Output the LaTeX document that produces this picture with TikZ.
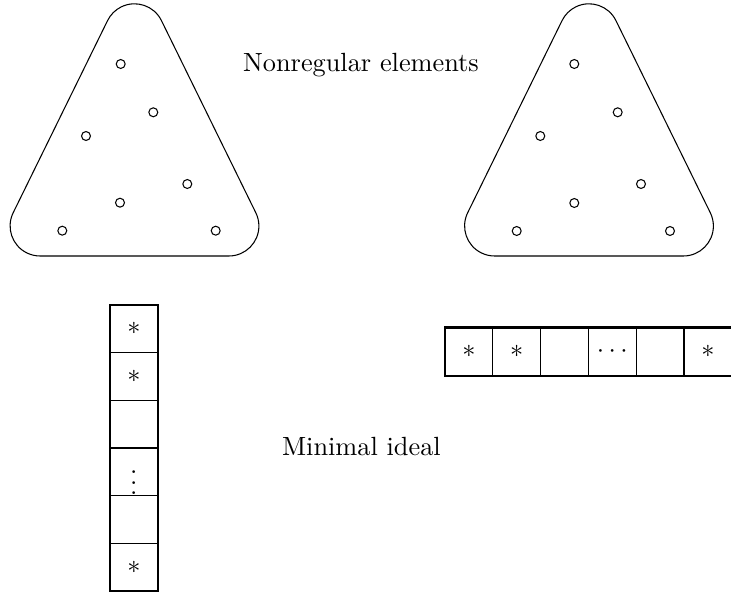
\documentclass[tikz,border=0pt]{standalone}
\begin{document}
\begin{tikzpicture}[x=0.38pt,y=0.38pt,
  blob/.style={line width=0.4pt},
  dot/.style={circle,draw,line width=0.4pt,minimum size=3.4pt,inner sep=0pt},
  outerline/.style={line width=0.9pt},
  innerline/.style={line width=0.4pt},
  lbl/.style={anchor=base,inner sep=0pt},
  entry/.style={inner sep=0pt}]
\useasboundingbox (0,0) rectangle (731,594);
\clip (0,0) rectangle (731,594);
% rounded triangles
\foreach \dx in {0,454.5}{
  \begin{scope}[shift={(\dx,0)}]
    \draw[blob] (40.1,338) -- (228.9,338)
      arc[start angle=-90,end angle=26.15,radius=11.4pt]
      -- (161.43,573.42)
      arc[start angle=26.15,end angle=153.85,radius=11.4pt]
      -- (13.17,381.22)
      arc[start angle=153.85,end angle=270,radius=11.4pt] -- cycle;
  \end{scope}}
% elements (left)
\foreach \n/\p in {1/{(120.7,530)},2/{(153.3,481.7)},3/{(86,458)},4/{(187.3,410)},5/{(120,391.3)},6/{(62.3,363.3)},7/{(215.7,363.3)}}
  \node[dot] (L\n) at \p {};
% elements (right)
\foreach \n/\p in {1/{(574.3,530)},2/{(617.7,481.7)},3/{(540.3,458)},4/{(641,410)},5/{(574.3,391)},6/{(516.7,363)},7/{(670,363)}}
  \node[dot] (R\n) at \p {};
% labels
\node[lbl] (nonreg) at (361,522.3) {Nonregular elements};
\node[lbl] (minideal) at (361.4,138.3) {Minimal ideal};
% vertical column
\foreach \yy in {241.33,193.67,146,98.33,50.67}
  \draw[innerline] (110,\yy) -- (157.7,\yy);
\draw[outerline] (110,3) rectangle (157.7,289);
\node[entry] (v1) at (133.85,265.2) {$*$};
\node[entry] (v2) at (133.85,217.5) {$*$};
\node[entry] (v4) at (133.85,119) {$\vdots$};
\node[entry] (v6) at (133.85,26.8) {$*$};
% horizontal row
\foreach \xx in {492.8,540.6,588.4,636.2,684}
  \draw[innerline] (\xx,218) -- (\xx,266.5);
\draw[outerline] (445,218) rectangle (731.8,266.5);
\node[entry] (h1) at (468.9,242.25) {$*$};
\node[entry] (h2) at (516.7,242.25) {$*$};
\node[entry] (h4) at (612.3,242.25) {$\cdots$};
\node[entry] (h6) at (707.9,242.25) {$*$};
\end{tikzpicture}
\end{document}
